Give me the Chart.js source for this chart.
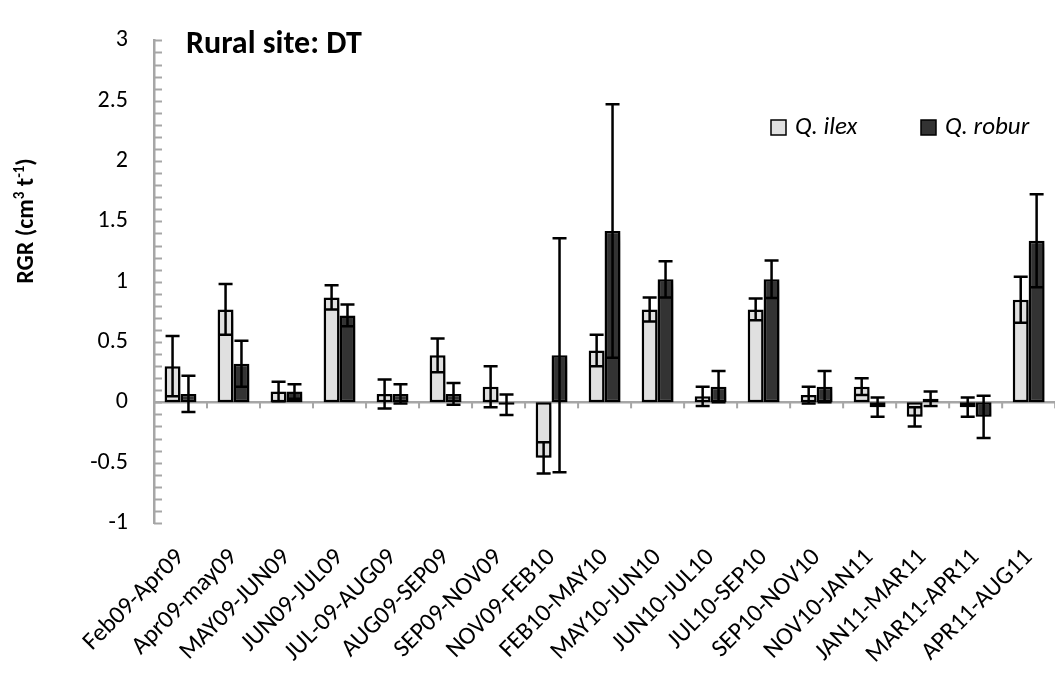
<!DOCTYPE html>
<html>
<head>
<meta charset="utf-8">
<script src="https://cdn.jsdelivr.net/npm/chart.js@4.4.1/dist/chart.umd.min.js"></script>
<style>
  html, body { margin: 0; padding: 0; background: #fff; overflow: hidden; }
  #wrap { width: 1062px; height: 673px; }
</style>
</head>
<body>
<div id="wrap"><canvas id="myChart" width="1062" height="673"></canvas></div>
<script>
// Periods (x categories)
const periods = ['Feb09-Apr09', 'Apr09-may09', 'MAY09-JUN09', 'JUN09-JUL09', 'JUL-09-AUG09',
  'AUG09-SEP09', 'SEP09-NOV09', 'NOV09-FEB10', 'FEB10-MAY10', 'MAY10-JUN10', 'JUN10-JUL10',
  'JUL10-SEP10', 'SEP10-NOV10', 'NOV10-JAN11', 'JAN11-MAR11', 'MAR11-APR11', 'APR11-AUG11'];

// RGR means and error bar half-lengths
const ilexRGR   = [0.30, 0.77, 0.09, 0.87, 0.07, 0.39, 0.13, -0.46, 0.43, 0.77, 0.05, 0.77, 0.06, 0.13, -0.12, -0.04, 0.85];
const ilexErr   = [0.25, 0.21, 0.08, 0.10, 0.12, 0.14, 0.17, 0.13, 0.13, 0.10, 0.08, 0.09, 0.07, 0.07, 0.08, 0.08, 0.19];
const roburRGR  = [0.07, 0.32, 0.09, 0.72, 0.07, 0.07, -0.02, 0.39, 1.42, 1.02, 0.13, 1.02, 0.13, -0.04, 0.03, -0.12, 1.34];
const roburErr  = [0.15, 0.19, 0.06, 0.09, 0.08, 0.09, 0.085, 0.97, 1.05, 0.15, 0.13, 0.155, 0.13, 0.08, 0.06, 0.175, 0.385];

const seriesNames = ['Q. ilex', 'Q. robur'];
const seriesFill = ['#e0e0e0', '#333333'];
const errors = [ilexErr, roburErr];

const FONT = 'Carlito, Lato, sans-serif';
const AXIS_GREY = '#a6a6a6';

// zero line, bar shadows, error bars, y minor ticks, title and legend
const extrasPlugin = {
  id: 'extras',
  beforeDatasetsDraw(chart) {
    const ctx = chart.ctx;
    const x = chart.scales.x, y = chart.scales.y;
    const y0 = y.getPixelForValue(0);
    const step = x.getPixelForValue(1) - x.getPixelForValue(0);
    ctx.save();
    ctx.strokeStyle = AXIS_GREY;
    ctx.lineWidth = 2.5;
    ctx.beginPath();
    ctx.moveTo(chart.chartArea.left, y0);
    ctx.lineTo(chart.chartArea.right, y0);
    ctx.stroke();
    ctx.lineWidth = 2;
    for (let i = 1; i <= periods.length; i++) {
      const bx = x.getPixelForValue(i - 1) + step / 2;
      ctx.beginPath();
      ctx.moveTo(bx, y0);
      ctx.lineTo(bx, y0 + 6);
      ctx.stroke();
    }
    ctx.restore();
    ctx.save();
    ctx.shadowColor = 'rgba(0,0,0,0.4)';
    ctx.shadowBlur = 9;
    ctx.shadowOffsetX = 2;
    ctx.shadowOffsetY = 5;
  },
  afterDatasetsDraw(chart) {
    const ctx = chart.ctx;
    ctx.restore();
    const y = chart.scales.y;
    ctx.save();
    ctx.strokeStyle = '#000';
    ctx.lineWidth = 2.5;
    chart.data.datasets.forEach((ds, di) => {
      const meta = chart.getDatasetMeta(di);
      meta.data.forEach((bar, i) => {
        const v = ds.data[i], e = errors[di][i];
        const top = y.getPixelForValue(v + e);
        const bot = y.getPixelForValue(v - e);
        ctx.beginPath();
        ctx.moveTo(bar.x, top); ctx.lineTo(bar.x, bot);
        ctx.moveTo(bar.x - 7, top); ctx.lineTo(bar.x + 7, top);
        ctx.moveTo(bar.x - 7, bot); ctx.lineTo(bar.x + 7, bot);
        ctx.stroke();
      });
    });
    ctx.restore();
  },
  afterDraw(chart) {
    const ctx = chart.ctx;
    const y = chart.scales.y;
    const left = chart.chartArea.left;
    ctx.save();
    // inside minor ticks on the y axis
    ctx.strokeStyle = AXIS_GREY;
    ctx.lineWidth = 2;
    y.ticks.forEach(t => {
      const py = Math.round(y.getPixelForValue(t.value)) + 0.5;
      ctx.beginPath();
      ctx.moveTo(left, py);
      ctx.lineTo(left + 8, py);
      ctx.stroke();
    });
    // panel title
    ctx.fillStyle = '#000';
    ctx.font = 'bold 32px ' + FONT;
    ctx.textBaseline = 'alphabetic';
    ctx.textAlign = 'left';
    ctx.fillText('Rural site: DT', 186, 53);
    // y axis title with superscripts
    ctx.save();
    ctx.translate(33, 221);
    ctx.rotate(-Math.PI / 2);
    ctx.textBaseline = 'alphabetic';
    ctx.textAlign = 'left';
    const parts = [['RGR (cm', false], ['3', true], [' t', false], ['-1', true], [')', false]];
    const big = 'bold 24px ' + FONT, small = 'bold 15px ' + FONT;
    let total = 0;
    parts.forEach(([s, sup]) => { ctx.font = sup ? small : big; total += ctx.measureText(s).width; });
    let px = -total / 2;
    parts.forEach(([s, sup]) => {
      ctx.font = sup ? small : big;
      ctx.fillText(s, px, sup ? -9 : 0);
      px += ctx.measureText(s).width;
    });
    ctx.restore();
    // legend
    const legendX = [771, 921];
    seriesNames.forEach((name, i) => {
      ctx.fillStyle = seriesFill[i];
      ctx.fillRect(legendX[i], 120, 15, 15);
      ctx.strokeStyle = '#000';
      ctx.lineWidth = 1.5;
      ctx.strokeRect(legendX[i], 120, 15, 15);
      ctx.fillStyle = '#000';
      ctx.font = 'italic 25px ' + FONT;
      ctx.textAlign = 'left';
      ctx.textBaseline = 'middle';
      ctx.fillText(name, legendX[i] + 24, 128);
    });
    ctx.restore();
  }
};

const ctx = document.getElementById('myChart').getContext('2d');
const myChart = new Chart(ctx, {
  type: 'bar',
  data: {
    labels: periods,
    datasets: [{
      label: seriesNames[0],
      data: ilexRGR,
      backgroundColor: seriesFill[0],
      borderColor: '#000',
      borderWidth: 2.5,
      borderSkipped: false
    }, {
      label: seriesNames[1],
      data: roburRGR,
      backgroundColor: seriesFill[1],
      borderColor: '#000',
      borderWidth: 2.5,
      borderSkipped: false
    }]
  },
  options: {
    responsive: false,
    animation: false,
    devicePixelRatio: 1,
    categoryPercentage: 0.6,
    barPercentage: 1.0,
    layout: { padding: { top: 21, right: 4, left: 0, bottom: 0 } },
    plugins: {
      legend: { display: false },
      tooltip: { enabled: false }
    },
    scales: {
      x: {
        position: 'bottom',
        grid: { display: false },
        border: { display: false },
        ticks: {
          color: '#000',
          font: { family: FONT, size: 25 },
          maxRotation: 45,
          minRotation: 45,
          padding: 12,
          autoSkip: false
        },
        afterFit(scale) { scale.height = 150; }
      },
      y: {
        min: -1,
        max: 3,
        grid: { display: false, drawTicks: false },
        border: { display: true, color: AXIS_GREY, width: 2.5 },
        ticks: {
          stepSize: 0.1,
          autoSkip: false,
          color: '#000',
          padding: 26,
          font: { family: FONT, size: 24 },
          callback(value) {
            const r = Math.round(value * 10);
            return r % 5 === 0 ? String(r / 10) : '';
          }
        },
        afterFit(scale) { scale.width = 154; }
      }
    }
  },
  plugins: [extrasPlugin]
});
</script>
</body>
</html>
